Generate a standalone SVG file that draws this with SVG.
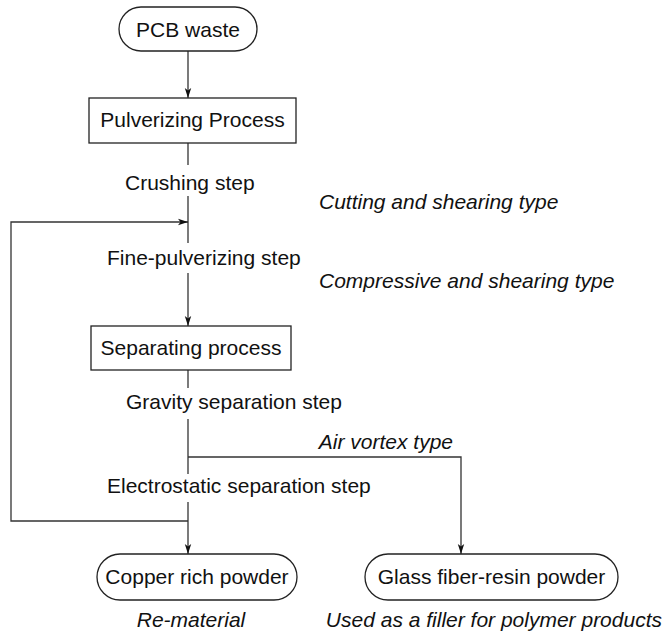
<svg xmlns="http://www.w3.org/2000/svg" width="664" height="633" viewBox="0 0 664 633">
<defs>
<style>
text{font-family:"Liberation Sans",Arial,sans-serif;font-size:21px;fill:#111}
.it{font-style:italic}
.box{fill:#fff;stroke:#222;stroke-width:1.3}
.ln{fill:none;stroke:#333;stroke-width:1.3}
</style>
<marker id="ah" viewBox="0 0 10 10" refX="10" refY="5" markerWidth="10" markerHeight="10" markerUnits="userSpaceOnUse" orient="auto">
<path d="M0,1.8 L10,5 L0,8.2 L2.5,5 Z" fill="#111"/>
</marker>
</defs>
<rect width="664" height="633" fill="#fff"/>
<g id="connectors">
<line class="ln" x1="188" y1="51" x2="188" y2="98" marker-end="url(#ah)"/>
<line class="ln" x1="188" y1="143" x2="188" y2="165"/>
<line class="ln" x1="188" y1="196" x2="188" y2="243"/>
<polyline class="ln" points="188,521 11,521 11,222 188,222" marker-end="url(#ah)"/>
<line class="ln" x1="188" y1="273" x2="188" y2="326" marker-end="url(#ah)"/>
<line class="ln" x1="188" y1="370" x2="188" y2="388"/>
<line class="ln" x1="188" y1="419" x2="188" y2="474"/>
<polyline class="ln" points="188,457 461,457 461,554" marker-end="url(#ah)"/>
<line class="ln" x1="188" y1="502" x2="188" y2="554" marker-end="url(#ah)"/>
</g>
<g id="pcb-waste">
<rect class="box" x="119" y="7" width="138" height="44" rx="22"/>
<text x="188" y="37" text-anchor="middle">PCB waste</text>
</g>
<g id="pulverizing-process">
<rect class="box" x="89" y="98" width="207" height="45"/>
<text x="192.5" y="127" text-anchor="middle">Pulverizing Process</text>
</g>
<g id="crushing-step">
<text x="125" y="190">Crushing step</text>
<text class="it" x="319" y="209">Cutting and shearing type</text>
</g>
<g id="fine-pulverizing-step">
<text x="107" y="265">Fine-pulverizing step</text>
<text class="it" x="319" y="288">Compressive and shearing type</text>
</g>
<g id="separating-process">
<rect class="box" x="91" y="326" width="200" height="44"/>
<text x="191" y="355" text-anchor="middle">Separating process</text>
</g>
<g id="gravity-separation-step">
<text x="126" y="409">Gravity separation step</text>
<text class="it" x="453" y="449" text-anchor="end">Air vortex type</text>
</g>
<g id="electrostatic-separation-step">
<text x="107" y="493">Electrostatic separation step</text>
</g>
<g id="copper-rich-powder">
<rect class="box" x="97" y="554" width="200" height="46" rx="23"/>
<text x="197" y="584" text-anchor="middle">Copper rich powder</text>
<text class="it" x="191" y="627" text-anchor="middle">Re-material</text>
</g>
<g id="glass-fiber-resin-powder">
<rect class="box" x="365" y="554" width="253" height="46" rx="23"/>
<text x="491.5" y="584" text-anchor="middle">Glass fiber-resin powder</text>
<text class="it" x="662" y="627" text-anchor="end">Used as a filler for polymer products</text>
</g>
</svg>
